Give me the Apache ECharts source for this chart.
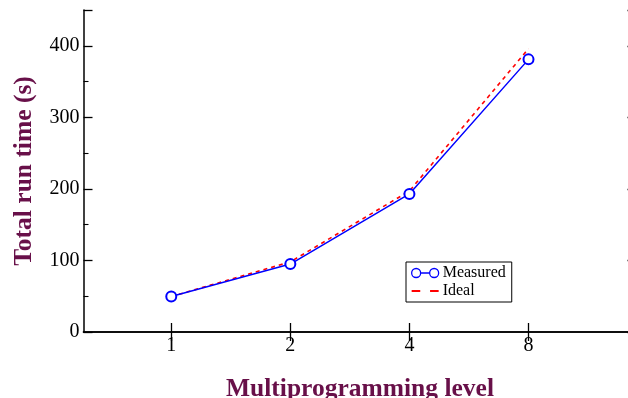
<!DOCTYPE html>
<html>
<head>
<meta charset="utf-8">
<script src="https://cdn.jsdelivr.net/npm/echarts@6/dist/echarts.min.js"></script>
<style>
  html, body { margin: 0; padding: 0; background: #fff; }
  #main { width: 628px; height: 398px; }
</style>
</head>
<body>
<div id="main"></div>
<script>
var levels = [1, 2, 4, 8];
var measured = [49.5, 95, 193, 381];
var ideal = [49.5, 98, 197, 396];
var yTicks = [0, 100, 200, 300, 400];

var dom = document.getElementById('main');
var myChart = echarts.init(dom);

var font = 'Liberation Serif';
var purple = '#681049';

function pairs(xs, ys) {
    return xs.map(function (x, i) { return [x, ys[i]]; });
}

var xBase = {
    type: 'log',
    logBase: 2,
    min: 0.6,
    max: 15,
    axisLine: { show: true, lineStyle: { color: '#000', width: 1.5 } },
    axisTick: { show: true, inside: true, length: 9, customValues: levels, lineStyle: { color: '#000', width: 1.3 } },
    minorTick: { show: false },
    splitLine: { show: false }
};
var yBase = {
    type: 'value',
    min: 0,
    max: 450,
    interval: 100,
    axisLine: { show: true, lineStyle: { color: '#000', width: 1.5 } },
    axisTick: { show: true, inside: true, length: 9, lineStyle: { color: '#000', width: 1.3 } },
    minorTick: { show: true, splitNumber: 2, length: 5, lineStyle: { color: '#000', width: 1.1 } },
    splitLine: { show: false }
};

option = {
    backgroundColor: '#fff',
    animation: false,
    grid: { left: 83.5, top: 10, right: -8.5, bottom: 66, outerBoundsMode: 'none', containLabel: false },
    legend: {
        orient: 'vertical',
        left: 406,
        top: 262,
        padding: [3, 6, 3, 5],
        itemGap: 2,
        itemWidth: 27,
        itemHeight: 9,
        borderColor: '#000',
        borderWidth: 1,
        backgroundColor: '#fff',
        textStyle: { fontFamily: font, fontSize: 16, color: '#000', padding: [0, 0, 0, -1] },
        data: [
            {
                name: 'Measured',
                icon: 'path://M0,4.5 A4.5,4.5 0 1,1 9,4.5 A4.5,4.5 0 1,1 0,4.5 Z M9,4.5 L18,4.5 M18,4.5 A4.5,4.5 0 1,1 27,4.5 A4.5,4.5 0 1,1 18,4.5 Z',
                itemStyle: { color: 'rgba(0,0,0,0)', borderColor: '#0000ff', borderWidth: 1.3 }
            },
            {
                name: 'Ideal',
                icon: 'path://M2,4 L9,4 L9,5.5 L2,5.5 Z M17,4 L24,4 L24,5.5 L17,5.5 Z',
                itemStyle: { color: '#ff0000', borderWidth: 0 }
            }
        ]
    },
    xAxis: [
        Object.assign({}, xBase, {
            position: 'bottom',
            name: 'Multiprogramming level',
            nameLocation: 'middle',
            nameGap: 44,
            nameTextStyle: { fontFamily: font, fontSize: 25.5, fontWeight: 'bold', color: purple },
            axisLabel: {
                show: true, customValues: levels, margin: 4,
                fontFamily: font, fontSize: 20, color: '#000'
            }
        }),
        Object.assign({}, xBase, {
            position: 'top',
            axisLabel: { show: false }
        })
    ],
    yAxis: [
        Object.assign({}, yBase, {
            position: 'left',
            name: 'Total run time (s)',
            nameLocation: 'middle',
            nameGap: 46,
            nameTextStyle: { fontFamily: font, fontSize: 25.5, fontWeight: 'bold', color: purple },
            axisLabel: {
                show: true, customValues: yTicks, margin: 4,
                fontFamily: font, fontSize: 20, color: '#000'
            }
        }),
        Object.assign({}, yBase, {
            position: 'right',
            axisLabel: { show: false }
        })
    ],
    series: [
        {
            name: 'Measured',
            type: 'line',
            data: pairs(levels, measured),
            symbol: 'emptyCircle',
            symbolSize: 10,
            z: 3,
            lineStyle: { color: '#0000ff', width: 1.5 },
            itemStyle: { color: '#0000ff', borderColor: '#0000ff', borderWidth: 1 }
        },
        {
            name: 'Ideal',
            type: 'line',
            data: pairs(levels, ideal),
            symbol: 'none',
            z: 2,
            lineStyle: { color: '#ff0000', width: 1.6, type: [4, 4] },
            itemStyle: { color: '#ff0000' }
        }
    ]
};

if (option && typeof option === 'object') {
    myChart.setOption(option, true);
}
</script>
</body>
</html>
